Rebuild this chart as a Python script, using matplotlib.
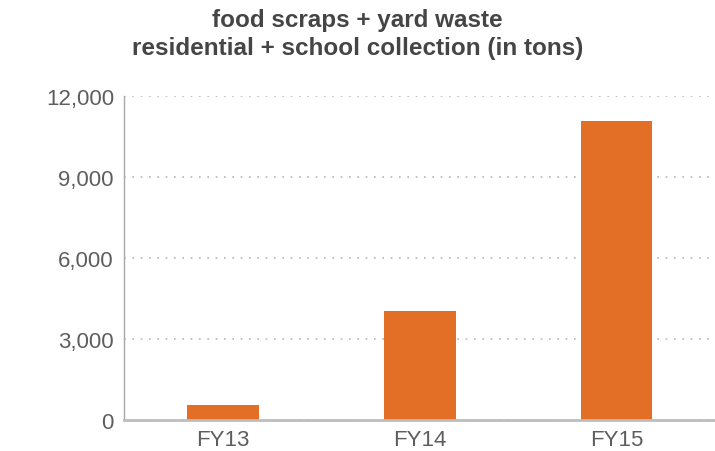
import matplotlib
matplotlib.use("Agg")
import matplotlib.pyplot as plt
from matplotlib.ticker import FuncFormatter

plt.rcParams['font.family'] = ['Liberation Sans', 'DejaVu Sans']

years = ["FY13", "FY14", "FY15"]
tons = [550, 4030, 11080]
y_ticks = [0, 3000, 6000, 9000, 12000]
title_lines = ["food scraps + yard waste", "residential + school collection (in tons)"]

bar_color = "#E36F26"
text_color = "#5e5e5e"

W, H = 715, 452
fig = plt.figure(figsize=(W / 100, H / 100), dpi=100)
ax = fig.add_axes([0.1739, 0.0692, 0.8261, 0.7155])

x = range(len(years))
ax.bar(x, tons, width=0.365, color=bar_color, zorder=3)

ax.set_xlim(-0.5, len(years) - 0.5)
ax.set_ylim(0, 12000)
ax.set_yticks(y_ticks)
ax.yaxis.set_major_formatter(FuncFormatter(lambda v, _: f"{int(v):,}"))
ax.set_xticks(list(x))
ax.set_xticklabels(years)

ax.grid(axis="y", linestyle=(0, (1, 4)), color="#b5b5b5", linewidth=1.2, zorder=0)
ax.grid(axis="x", visible=False)

for side in ("top", "right"):
    ax.spines[side].set_visible(False)
ax.spines["left"].set_color("#a8a8a8")
ax.spines["left"].set_linewidth(1.0)
ax.spines["bottom"].set_color("#bdbdbd")
ax.spines["bottom"].set_linewidth(2.0)
ax.spines["bottom"].set_zorder(4)

ax.tick_params(axis="both", length=0, labelsize=16, labelcolor=text_color)
ax.tick_params(axis="y", pad=7.5)
ax.tick_params(axis="x", pad=7)

# two-line bold title, baselines placed in pixel terms
for line, base_px in zip(title_lines, (27, 55)):
    fig.text(0.5, 1 - base_px / H, line, ha="center", va="baseline",
             fontsize=17.5, fontweight="bold", color="#454545")

fig.savefig("out.png", dpi=100)
